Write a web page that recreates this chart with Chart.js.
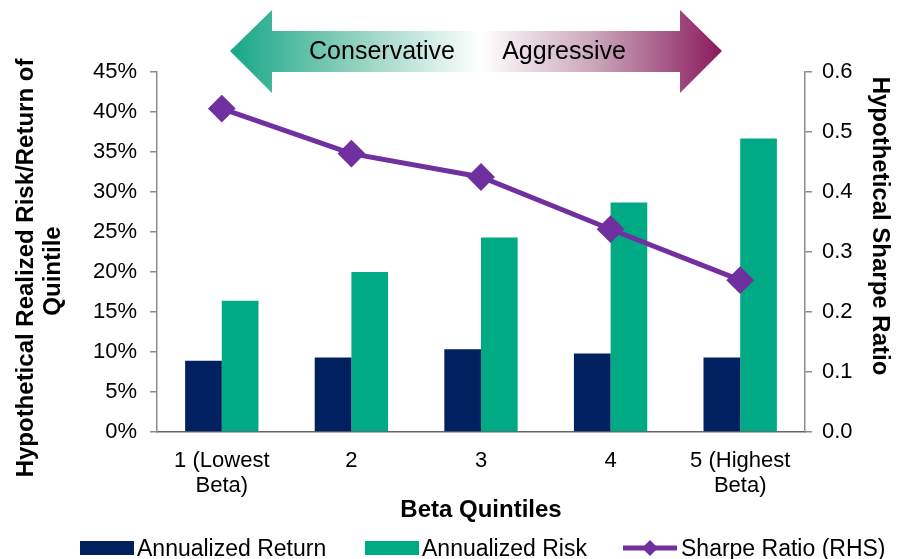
<!DOCTYPE html>
<html>
<head>
<meta charset="utf-8">
<script src="https://cdn.jsdelivr.net/npm/chart.js@4/dist/chart.umd.min.js"></script>
<style>
  html, body { margin: 0; padding: 0; background: #fff; }
  #wrap { width: 897px; height: 559px; position: relative; }
</style>
</head>
<body>
<div id="wrap"><canvas id="chart" width="897" height="559"></canvas></div>
<script>
// quintile buckets, lowest to highest beta
const quintiles = [['1 (Lowest', 'Beta)'], '2', '3', '4', ['5 (Highest', 'Beta)']];
const annualizedReturn = [8.9, 9.3, 10.35, 9.8, 9.3];    // %
const annualizedRisk = [16.4, 20.0, 24.3, 28.7, 36.7];    // %
const sharpeRatio = [0.539, 0.464, 0.425, 0.338, 0.253];
const leftTitle = ['Hypothetical Realized Risk/Return of', 'Quintile'];
const rightTitle = 'Hypothetical Sharpe Ratio';
const arrowLabels = ['Conservative', 'Aggressive'];

const NAVY = '#002060';
const GREEN = '#00aa85';
const PURPLE = '#7030a0';
const AXIS = '#8c8c8c';
const FONT = '"Liberation Sans", Arial, sans-serif';

// conservative <-> aggressive banner, side titles and the legend row
const decorations = {
  id: 'decorations',
  afterDraw(chart) {
    const ctx = chart.ctx;
    ctx.save();

    // double headed arrow
    const g = ctx.createLinearGradient(230, 0, 722, 0);
    g.addColorStop(0, '#15a786');
    g.addColorStop(0.25, '#8fd0bd');
    g.addColorStop(0.51, '#ffffff');
    g.addColorStop(0.75, '#c8a2b6');
    g.addColorStop(1, '#8a1a5e');
    ctx.fillStyle = g;
    ctx.beginPath();
    ctx.moveTo(230, 51);
    ctx.lineTo(272, 10);
    ctx.lineTo(272, 31);
    ctx.lineTo(680, 31);
    ctx.lineTo(680, 10);
    ctx.lineTo(722, 51);
    ctx.lineTo(680, 93);
    ctx.lineTo(680, 72);
    ctx.lineTo(272, 72);
    ctx.lineTo(272, 93);
    ctx.closePath();
    ctx.fill();

    ctx.fillStyle = '#000';
    ctx.font = '25px ' + FONT;
    ctx.textAlign = 'center';
    ctx.textBaseline = 'alphabetic';
    ctx.fillText(arrowLabels[0], 382, 59);
    ctx.fillText(arrowLabels[1], 564, 59);

    // y axis titles
    ctx.font = 'bold 24px ' + FONT;
    ctx.save();
    ctx.translate(33, 268);
    ctx.rotate(-Math.PI / 2);
    ctx.fillText(leftTitle[0], 0, 0);
    ctx.restore();
    ctx.save();
    ctx.translate(60, 271);
    ctx.rotate(-Math.PI / 2);
    ctx.fillText(leftTitle[1], 0, 0);
    ctx.restore();
    ctx.save();
    ctx.translate(873, 226);
    ctx.rotate(Math.PI / 2);
    ctx.fillText(rightTitle, 0, 0);
    ctx.restore();

    // legend
    const ds = chart.data.datasets;
    const y = 548;
    ctx.font = '23px ' + FONT;
    ctx.textAlign = 'left';
    ctx.textBaseline = 'alphabetic';
    ctx.fillStyle = ds[0].backgroundColor;
    ctx.fillRect(80, 541, 54, 14);
    ctx.fillStyle = '#000';
    ctx.fillText(ds[0].label, 137, 556);

    ctx.fillStyle = ds[1].backgroundColor;
    ctx.fillRect(365, 541, 54, 14);
    ctx.fillStyle = '#000';
    ctx.fillText(ds[1].label, 422, 556);

    ctx.strokeStyle = ds[2].borderColor;
    ctx.lineWidth = 5;
    ctx.beginPath();
    ctx.moveTo(623, y);
    ctx.lineTo(677, y);
    ctx.stroke();
    ctx.fillStyle = ds[2].borderColor;
    ctx.beginPath();
    ctx.moveTo(650, y - 8);
    ctx.lineTo(658, y);
    ctx.lineTo(650, y + 8);
    ctx.lineTo(642, y);
    ctx.closePath();
    ctx.fill();
    ctx.fillStyle = '#000';
    ctx.fillText(ds[2].label, 681, 556);

    ctx.restore();
  }
};

new Chart(document.getElementById('chart'), {
  data: {
    labels: quintiles,
    datasets: [
      {
        type: 'bar',
        label: 'Annualized Return',
        data: annualizedReturn,
        backgroundColor: NAVY,
        yAxisID: 'y',
        order: 2
      },
      {
        type: 'bar',
        label: 'Annualized Risk',
        data: annualizedRisk,
        backgroundColor: GREEN,
        yAxisID: 'y',
        order: 2
      },
      {
        type: 'line',
        label: 'Sharpe Ratio (RHS)',
        data: sharpeRatio,
        borderColor: PURPLE,
        backgroundColor: PURPLE,
        borderWidth: 5,
        tension: 0,
        pointStyle: 'rectRot',
        pointRadius: 12.5,
        pointBorderWidth: 2,
        yAxisID: 'y2',
        order: 1
      }
    ]
  },
  options: {
    responsive: false,
    animation: false,
    datasets: { bar: { barPercentage: 1, categoryPercentage: 0.566 } },
    layout: { padding: { top: 72, left: 0, right: 0, bottom: 0 } },
    plugins: {
      legend: { display: false },
      tooltip: { enabled: false }
    },
    scales: {
      x: {
        afterFit: s => { s.height = 127; },
        grid: { display: false, drawTicks: false },
        border: { display: true, color: '#666', width: 1.5 },
        ticks: {
          color: '#000',
          padding: 16,
          maxRotation: 0,
          autoSkip: false,
          font: { family: FONT, size: 22, lineHeight: 1.15 }
        },
        title: {
          display: true,
          text: 'Beta Quintiles',
          color: '#000',
          font: { family: FONT, size: 24, weight: 'bold' },
          padding: { top: 0, bottom: 34 }
        }
      },
      y: {
        position: 'left',
        min: 0,
        max: 45,
        afterFit: s => { s.width = 157; },
        grid: { drawOnChartArea: false, color: AXIS, tickLength: 7, lineWidth: 1.5 },
        border: { color: AXIS, width: 1.5 },
        ticks: {
          stepSize: 5,
          padding: 13,
          color: '#000',
          font: { family: FONT, size: 22 },
          callback: v => v + '%'
        }
      },
      y2: {
        position: 'right',
        min: 0,
        max: 0.6,
        afterFit: s => { s.width = 92; },
        grid: { drawOnChartArea: false, color: AXIS, tickLength: 7, lineWidth: 1.5 },
        border: { color: AXIS, width: 1.5 },
        ticks: {
          stepSize: 0.1,
          padding: 10,
          color: '#000',
          font: { family: FONT, size: 22 },
          callback: v => v.toFixed(1)
        }
      }
    }
  },
  plugins: [decorations]
});
</script>
</body>
</html>
